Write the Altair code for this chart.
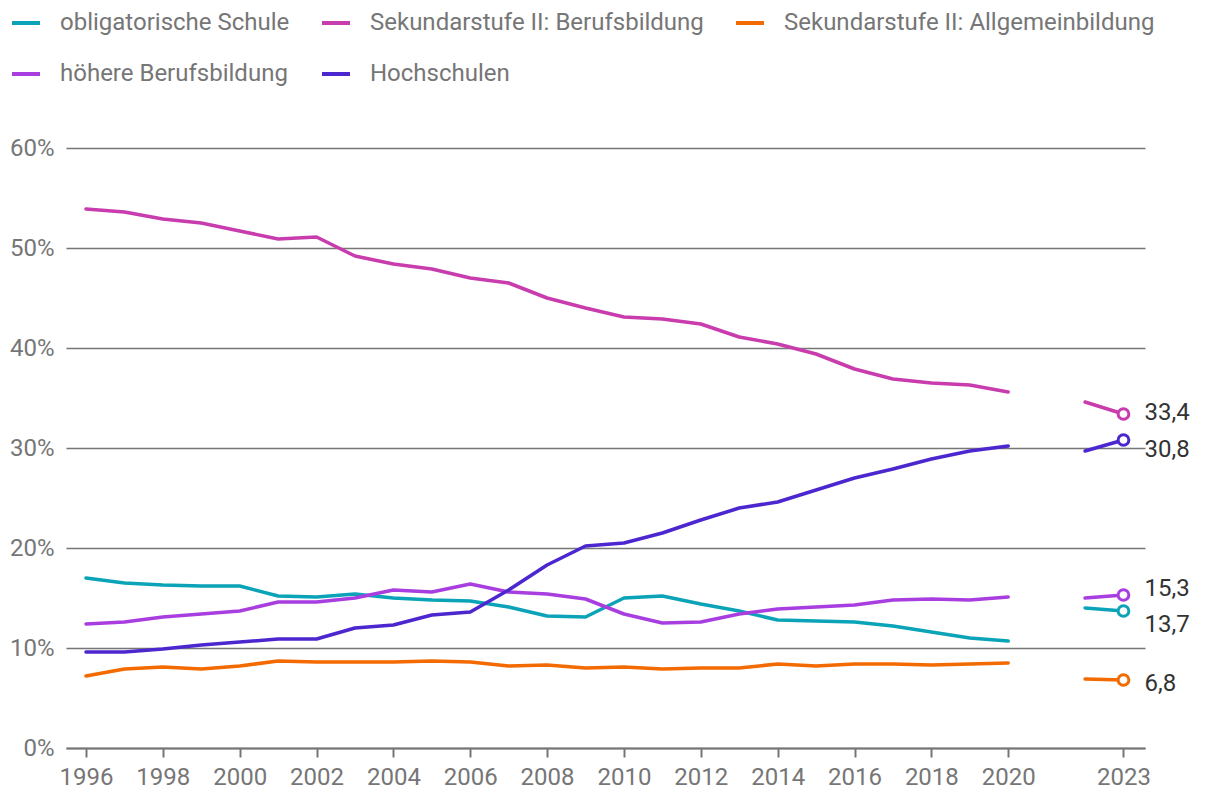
import altair as alt
import pandas as pd

# ---- data -------------------------------------------------------------
years = list(range(1996, 2021))
recent_years = [2022, 2023]

series_names = [
    "obligatorische Schule",
    "Sekundarstufe II: Berufsbildung",
    "Sekundarstufe II: Allgemeinbildung",
    "höhere Berufsbildung",
    "Hochschulen",
]

obligatorische_schule = [17.0, 16.5, 16.3, 16.2, 16.2, 15.2, 15.1, 15.4, 15.0, 14.8,
                         14.7, 14.1, 13.2, 13.1, 15.0, 15.2, 14.4, 13.7, 12.8, 12.7,
                         12.6, 12.2, 11.6, 11.0, 10.7]
sek2_berufsbildung = [53.9, 53.6, 52.9, 52.5, 51.7, 50.9, 51.1, 49.2, 48.4, 47.9,
                      47.0, 46.5, 45.0, 44.0, 43.1, 42.9, 42.4, 41.1, 40.4, 39.4,
                      37.9, 36.9, 36.5, 36.3, 35.6]
sek2_allgemeinbildung = [7.2, 7.9, 8.1, 7.9, 8.2, 8.7, 8.6, 8.6, 8.6, 8.7,
                         8.6, 8.2, 8.3, 8.0, 8.1, 7.9, 8.0, 8.0, 8.4, 8.2,
                         8.4, 8.4, 8.3, 8.4, 8.5]
hoehere_berufsbildung = [12.4, 12.6, 13.1, 13.4, 13.7, 14.6, 14.6, 15.0, 15.8, 15.6,
                         16.4, 15.6, 15.4, 14.9, 13.4, 12.5, 12.6, 13.4, 13.9, 14.1,
                         14.3, 14.8, 14.9, 14.8, 15.1]
hochschulen = [9.6, 9.6, 9.9, 10.3, 10.6, 10.9, 10.9, 12.0, 12.3, 13.3,
               13.6, 15.8, 18.3, 20.2, 20.5, 21.5, 22.8, 24.0, 24.6, 25.8,
               27.0, 27.9, 28.9, 29.7, 30.2]

obligatorische_schule_recent = [14.0, 13.7]
sek2_berufsbildung_recent = [34.6, 33.4]
sek2_allgemeinbildung_recent = [6.9, 6.8]
hoehere_berufsbildung_recent = [15.0, 15.3]
hochschulen_recent = [29.7, 30.8]

end_labels = ["13,7", "33,4", "6,8", "15,3", "30,8"]

# ---- styling ----------------------------------------------------------
colors = ["#0aa3b8", "#c83cad", "#f26a00", "#a93ee0", "#4c27d0"]
label_dy = [14, -1, 4, -6, 10]   # pixel offsets of end labels
FONT = "Roboto"
GREY = "#767676"

main_vals = [obligatorische_schule, sek2_berufsbildung, sek2_allgemeinbildung,
             hoehere_berufsbildung, hochschulen]
recent_vals = [obligatorische_schule_recent, sek2_berufsbildung_recent,
               sek2_allgemeinbildung_recent, hoehere_berufsbildung_recent,
               hochschulen_recent]

rows = []
for name, vals, rvals in zip(series_names, main_vals, recent_vals):
    for yr, v in zip(years, vals):
        rows.append({"series": name, "year": yr, "value": v, "segment": "a"})
    for yr, v in zip(recent_years, rvals):
        rows.append({"series": name, "year": yr, "value": v, "segment": "b"})
df = pd.DataFrame(rows)

end_df = pd.DataFrame({
    "series": series_names,
    "year": [recent_years[-1]] * len(series_names),
    "value": [r[-1] for r in recent_vals],
    "label": end_labels,
})

x_scale = alt.Scale(domain=[1995.48, 2023.56], nice=False, zero=False)
y_scale = alt.Scale(domain=[0, 60], nice=False)
color_scale = alt.Scale(domain=series_names, range=colors)

x_enc = alt.X("year:Q", scale=x_scale, title=None,
              axis=alt.Axis(values=years[::2] + [2023], format="d", grid=False,
                            domainColor=GREY, domainWidth=2, tickColor=GREY,
                            tickWidth=2, tickSize=9, labelPadding=8,
                            labelFontSize=24, labelColor=GREY, labelFont=FONT))
y_enc = alt.Y("value:Q", scale=y_scale, title=None,
              axis=alt.Axis(values=[0, 10, 20, 30, 40, 50, 60],
                            labelExpr="datum.value + '%'", grid=True,
                            gridColor=GREY, gridWidth=1.5, domain=False,
                            ticks=False, labelPadding=12, labelFontSize=24,
                            labelColor=GREY, labelFont=FONT))

lines = alt.Chart(df).mark_line(strokeWidth=3.5, strokeCap="round",
                                strokeJoin="round").encode(
    x=x_enc,
    y=y_enc,
    color=alt.Color("series:N", scale=color_scale,
                    legend=alt.Legend(title=None, orient="none", legendX=-56,
                                      legendY=-141, direction="horizontal",
                                      columns=3, symbolType="stroke",
                                      symbolSize=784, symbolStrokeWidth=4,
                                      labelFontSize=24, labelColor=GREY,
                                      labelFont=FONT, labelOffset=18,
                                      labelLimit=1000,
                                      columnPadding=24, rowPadding=23,
                                      padding=0)),
    detail="segment:N",
)

points = alt.Chart(end_df).mark_point(shape="circle", filled=True, fill="white",
                                      strokeWidth=3, size=115, opacity=1).encode(
    x=alt.X("year:Q", scale=x_scale),
    y=alt.Y("value:Q", scale=y_scale),
    stroke=alt.Stroke("series:N", scale=color_scale, legend=None),
)

layers = [lines, points]
for name, dy in zip(series_names, label_dy):
    layers.append(
        alt.Chart(end_df).transform_filter(alt.datum.series == name)
        .mark_text(align="left", baseline="middle", dx=21, dy=dy,
                   fontSize=24, font=FONT, color="#333333")
        .encode(x=alt.X("year:Q", scale=x_scale),
                y=alt.Y("value:Q", scale=y_scale),
                text="label:N")
    )

chart = alt.layer(*layers).properties(
    width=1079, height=600,
    autosize=alt.AutoSizeParams(type="none"),
    padding={"left": 58, "top": 140, "right": 60, "bottom": 50},
).configure(font=FONT, view=alt.ViewConfig(stroke=None))

chart.save("out.html", embed_options={"renderer": "svg", "actions": False})
